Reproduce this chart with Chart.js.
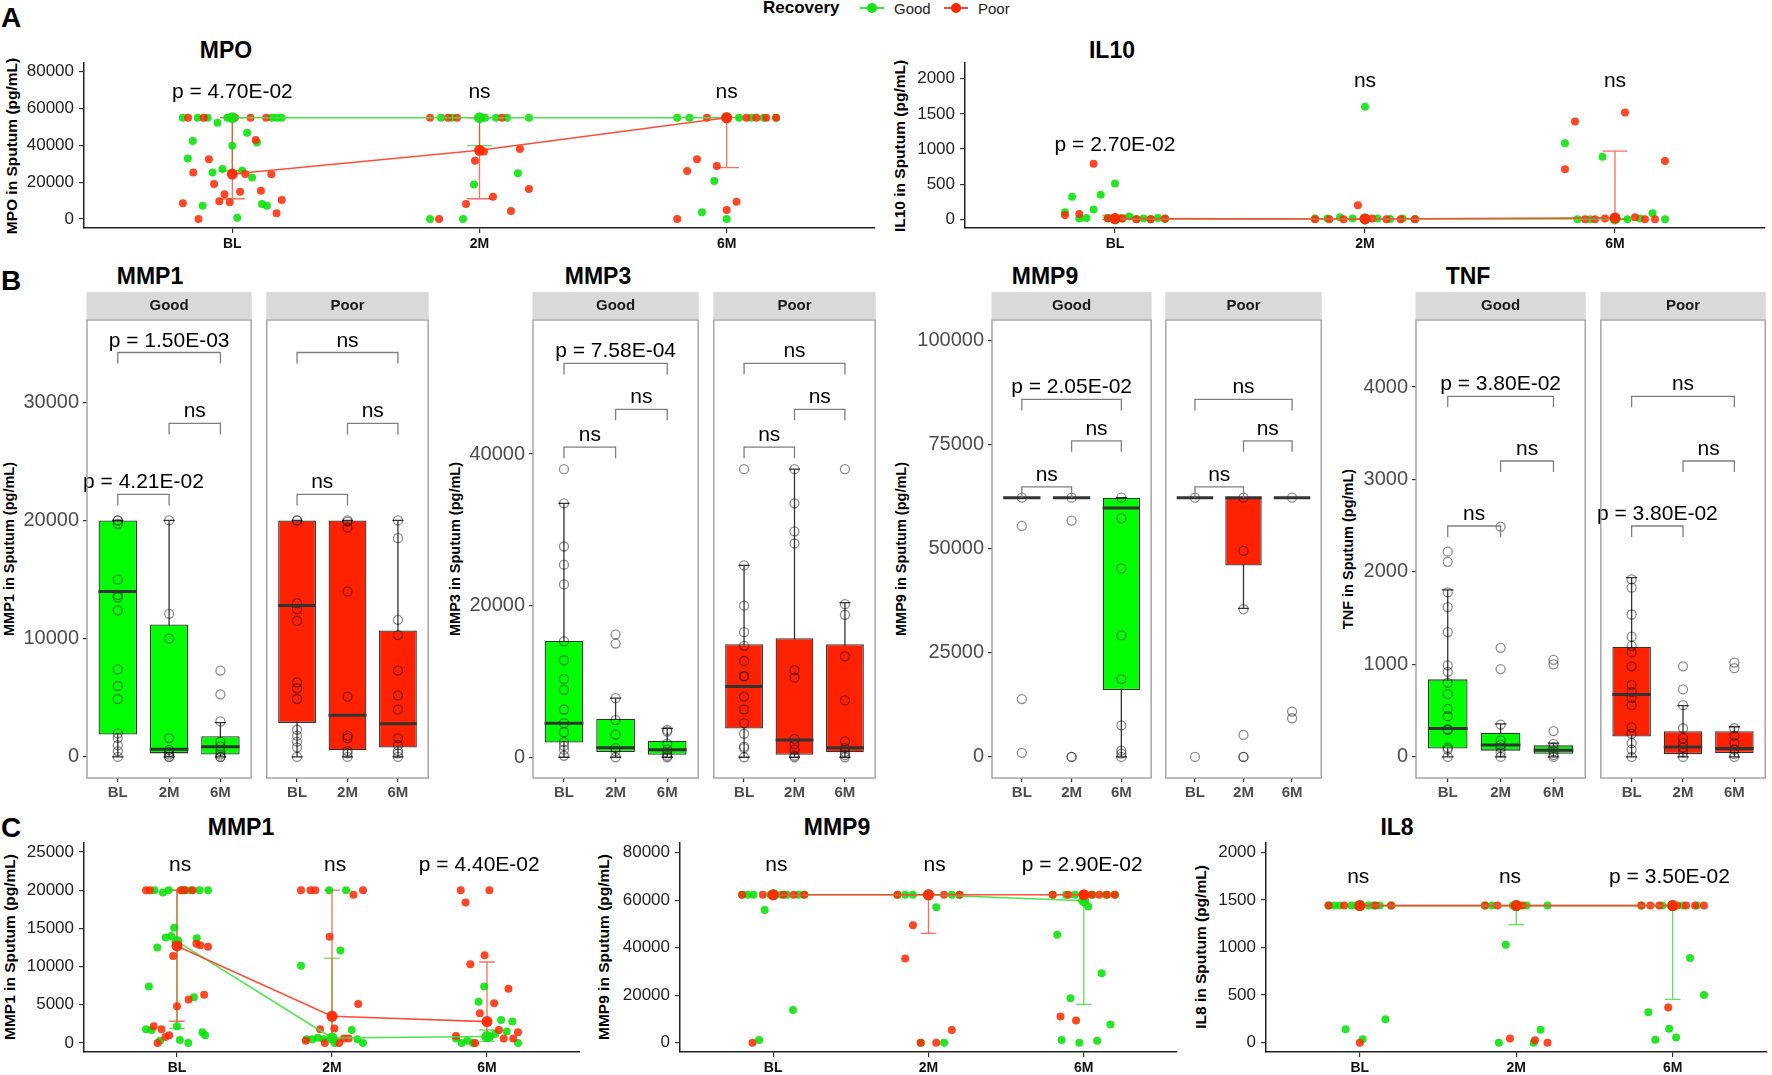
<!DOCTYPE html>
<html>
<head>
<meta charset="utf-8">
<script src="https://cdn.jsdelivr.net/npm/chart.js@4.4.1/dist/chart.umd.min.js"></script>
<style>
  body { margin: 0; width: 1772px; height: 1075px; position: relative; background: #fff; overflow: hidden;
         font-family: 'Liberation Sans', Arial, sans-serif; }
  canvas { position: absolute; }
  .t { position: absolute; transform: translate(-50%, -50%); white-space: nowrap; color: #000; }
  .yt { position: absolute; transform: translate(-50%, -50%) rotate(-90deg); white-space: nowrap; font-weight: bold; color: #000; }
</style>
</head>
<body>
<script>
const cats = ['BL', '2M', '6M'];

// ---- A: MPO / IL10 (raw points per time point, summary = [q1, median, q3]) ----
const mpoTicks = [0, 20000, 40000, 60000, 80000];
const mpoGoodPts = [
  [55000, 32900, 42400, 55000, 7200, 55000, 25200, 52300, 27200, 55000, 39800, 700, 26200, 46900, 22600, 41500, 8200, 7200, 55000, 55000, 55000],
  [0, 55000, 55000, 0, 18800, 55000, 55000, 55000, 24800, 55000],
  [55000, 55000, 3600, 20600, 0, 55000, 55000, 55000, 55000]
];
const mpoPoorPts = [
  [8500, 55000, 25200, 0, 55000, 32400, 19000, 9600, 13400, 9100, 55000, 14800, 24400, 55000, 42900, 15400, 55000, 24300, 3100, 10300],
  [55000, 0, 55000, 55000, 8200, 31700, 36700, 12100, 55000, 4300, 38000, 16300],
  [0, 26100, 32400, 55000, 28800, 4900, 9400, 55000, 55000, 55000, 55000]
];
const mpoGoodSum = [[26200, 55000, 55000], [39800, 55000, 55000], [55000, 55000, 55000]];
const mpoPoorSum = [[11000, 24400, 55000], [11000, 37300, 55000], [27900, 55000, 55000]];
const mpoSig = ['p = 4.70E-02', 'ns', 'ns'];

const il10Ticks = [0, 500, 1000, 1500, 2000];
const il10GoodPts = [
  [100, 320, 10, 20, 140, 350, 20, 510, 10, 40, 5, 10, 5, 20, 5],
  [10, 10, 30, 10, 1600, 10, 5, 10, 5],
  [1080, 0, 0, 890, 10, 0, 10, 85, 0]
];
const il10PoorPts = [
  [60, 75, 790, 10, 10, 0, 0, 10],
  [0, 0, 0, 200, 10, 0, 0, 0],
  [710, 1390, 0, 0, 10, 30, 1520, 30, 0, 0, 830]
];
const il10GoodSum = [[0, 5, 30], [0, 5, 10], [0, 5, 10]];
const il10PoorSum = [[0, 10, 60], [0, 5, 10], [0, 20, 970]];
const il10Sig = ['p = 2.70E-02', 'ns', 'ns'];

// ---- B: box stats per time point = [lower whisker, q1, median, q3, upper whisker] ----
const mmp1Ticks = [0, 10000, 20000, 30000];
const mmp1GoodBox = [[0, 1900, 14000, 20000, 20000], [0, 300, 650, 11200, 20000], [0, 200, 860, 1750, 2900]];
const mmp1GoodPts = [
  [20000, 20000, 19700, 15000, 13700, 13500, 12400, 7400, 6000, 4900, 2000, 1600, 1000, 500, 0],
  [20000, 12100, 10000, 1600, 600, 400, 200, 0, 0],
  [7300, 5300, 3000, 1300, 900, 500, 200, 0, 0]
];
const mmp1PoorBox = [[0, 2880, 12800, 20000, 20000], [0, 560, 3530, 20000, 20000], [0, 800, 2800, 10700, 20000]];
const mmp1PoorPts = [
  [20000, 20000, 13000, 12500, 11500, 6300, 5800, 4900, 2300, 1800, 1300, 800, 0],
  [20000, 19900, 19400, 14000, 5100, 1800, 1600, 500, 300, 0],
  [20000, 18500, 11600, 10300, 7300, 5200, 4000, 1600, 1000, 500, 300, 0]
];
// comparisons: BL-6M, 2M-6M, BL-2M
const mmp1GoodSig = ['p = 1.50E-03', 'ns', 'p = 4.21E-02'];
const mmp1PoorSig = ['ns', 'ns', 'ns'];

const mmp3Ticks = [0, 20000, 40000];
const mmp3GoodBox = [[0, 1940, 4490, 15370, 33500], [0, 700, 1250, 5090, 7800], [0, 320, 1000, 2180, 3800]];
const mmp3GoodPts = [
  [38000, 33500, 27800, 25400, 22800, 15300, 12800, 10300, 8900, 6300, 4500, 3300, 2000, 1500, 1000, 200],
  [16200, 15000, 7800, 4900, 3000, 1200, 800, 0],
  [3600, 3400, 1800, 1000, 500, 200, 0]
];
const mmp3PoorBox = [[0, 3800, 9350, 14900, 25300], [0, 320, 2270, 15700, 38000], [0, 650, 1250, 14900, 20400]];
const mmp3PoorPts = [
  [38000, 25300, 20000, 16500, 14700, 12700, 10700, 10700, 8000, 6300, 4500, 3100, 1400, 1200, 0],
  [38000, 33500, 29800, 28200, 11500, 10500, 2400, 1700, 1000, 200, 0],
  [38000, 20200, 18800, 13300, 7500, 2100, 1200, 700, 300, 0]
];
const mmp3GoodSig = ['p = 7.58E-04', 'ns', 'ns'];
const mmp3PoorSig = ['ns', 'ns', 'ns'];

const mmp9Ticks = [0, 25000, 50000, 75000, 100000];
const mmp9GoodBox = [[62300, 62300, 62300, 62300, 62300], [62300, 62300, 62300, 62300, 62300], [0, 16100, 59800, 62300, 62300]];
const mmp9GoodPts = [
  [62300, 55500, 13900, 1000],
  [62300, 56800, 0, 0],
  [62300, 57300, 45300, 29200, 18700, 7600, 1500, 800, 0]
];
const mmp9PoorBox = [[62300, 62300, 62300, 62300, 62300], [35700, 46000, 62300, 62300, 62300], [62300, 62300, 62300, 62300, 62300]];
const mmp9PoorPts = [
  [62300, 0],
  [62300, 49500, 35500, 5300, 0, 0],
  [62300, 10900, 9300]
];
const mmp9GoodSig = ['p = 2.05E-02', 'ns', 'ns'];
const mmp9PoorSig = ['ns', 'ns', 'ns'];

const tnfTicks = [0, 1000, 2000, 3000, 4000];
const tnfGoodBox = [[0, 91, 307, 839, 1806], [0, 68, 129, 262, 357], [0, 34, 72, 125, 150]];
const tnfGoodPts = [
  [2220, 2110, 1780, 1620, 1350, 990, 920, 800, 680, 520, 440, 300, 290, 100, 80, 0],
  [2490, 1180, 950, 350, 180, 130, 100, 50, 0],
  [1050, 1000, 280, 140, 100, 60, 20, 0]
];
const tnfPoorBox = [[0, 220, 676, 1192, 1940], [0, 30, 106, 277, 554], [0, 42, 91, 277, 326]];
const tnfPoorPts = [
  [1920, 1830, 1540, 1300, 1200, 1130, 980, 780, 700, 640, 560, 320, 250, 150, 80, 0],
  [980, 730, 560, 310, 200, 150, 100, 50, 0],
  [1020, 960, 310, 230, 150, 80, 30, 0]
];
const tnfGoodSig = ['p = 3.80E-02', 'ns', 'ns'];
const tnfPoorSig = ['ns', 'ns', 'p = 3.80E-02'];

// ---- C: MMP1 / MMP9 / IL8 ----
const cMmp1Ticks = [0, 5000, 10000, 15000, 20000, 25000];
const cMmp1GoodPts = [
  [1800, 7400, 1700, 20000, 12500, 300, 19700, 13800, 20000, 14000, 15100, 2200, 400, 20000, 20000, 0, 20000, 6000, 13700, 20000, 1400, 1000, 20000],
  [10100, 500, 500, 700, 500, 20000, 0, 12100, 20000, 1700, 500, 0],
  [600, 0, 300, 0, 5400, 7400, 800, 1200, 3000, 1500, 2800, 0]
];
const cMmp1PoorPts = [
  [20000, 20000, 2200, 0, 1800, 800, 1000, 11400, 4800, 20000, 20000, 5700, 20000, 13000, 12800, 6300, 12600],
  [20000, 300, 20000, 20000, 1800, 0, 13900, 1900, 0, 600, 600, 19400, 5100, 20000],
  [900, 20000, 18400, 10300, 0, 3900, 11500, 20000, 5200, 1700, 600, 7100, 600, 1400]
];
const cMmp1GoodSum = [[1900, 13300, 20000], [300, 650, 11100], [200, 850, 1700]];
const cMmp1PoorSum = [[2850, 12700, 20000], [560, 3500, 20000], [800, 2800, 10600]];
const cMmp1Sig = ['ns', 'ns', 'p = 4.40E-02'];

const cMmp9Ticks = [0, 20000, 40000, 60000, 80000];
const cMmp9GoodPts = [
  [62300, 62300, 62300, 1100, 55900, 62300, 62300, 62300, 62300, 13800, 62300, 62300],
  [62300, 62300, 62300, 0, 62300, 57000, 0, 62300, 62300],
  [62300, 45400, 1100, 62300, 18700, 62300, 0, 59400, 57300, 62300, 800, 29200, 62300, 7700, 62300]
];
const cMmp9PoorPts = [
  [62300, 0, 62300, 62300, 62300, 62300, 62300],
  [62300, 35500, 49400, 0, 62300, 0, 62300, 5300, 62300],
  [62300, 11000, 62300, 9300, 62300, 62300, 62300, 62300, 62300]
];
const cMmp9GoodSum = [[62300, 62300, 62300], [62300, 62300, 62300], [16100, 59800, 62300]];
const cMmp9PoorSum = [[62300, 62300, 62300], [46000, 62300, 62300], [62300, 62300, 62300]];
const cMmp9Sig = ['ns', 'ns', 'p = 2.90E-02'];

const il8Ticks = [0, 500, 1000, 1500, 2000];
const il8GoodPts = [
  [1440, 1440, 1440, 140, 1440, 1440, 35, 1440, 1440, 1440, 245, 1440],
  [1440, 1440, 0, 1030, 1440, 1440, 1440, 0, 135, 1440],
  [1440, 320, 30, 1440, 145, 55, 1440, 890, 1440, 500]
];
const il8PoorPts = [
  [1440, 1440, 0, 1440, 1440],
  [1440, 1440, 45, 1440, 25, 0],
  [1440, 1440, 1440, 370, 1440, 1440, 1440, 1440]
];
const il8GoodSum = [[1440, 1440, 1440], [1240, 1440, 1440], [455, 1440, 1440]];
const il8PoorSum = [[1440, 1440, 1440], [1440, 1440, 1440], [1440, 1440, 1440]];
const il8Sig = ['ns', 'ns', 'p = 3.50E-02'];

Chart.defaults.font.family = "'Liberation Sans', Arial, sans-serif";
const FONT = "'Liberation Sans', Arial, sans-serif";

function addCanvas(l, t, w, h) {
  const c = document.createElement('canvas');
  c.width = w; c.height = h;
  c.style.left = l + 'px'; c.style.top = t + 'px';
  c.style.width = w + 'px'; c.style.height = h + 'px';
  document.body.appendChild(c);
  return c;
}

function addText(s, x, y, css, cls) {
  const d = document.createElement('div');
  d.className = cls || 't';
  d.textContent = s;
  d.style.cssText = 'left:' + x + 'px;top:' + y + 'px;' + (css || '');
  document.body.appendChild(d);
  return d;
}

const fixTicks = vals => scale => { scale.ticks = vals.map(v => ({ value: v })); };

// spread each group's points across +-0.2 of its category, in reading order
function jittered(groups) {
  const out = [];
  groups.forEach((vals, c) => {
    const n = vals.length;
    vals.forEach((v, i) => out.push({ x: c + 1 + (n > 1 ? -0.2 + 0.4 * i / (n - 1) : 0), y: v }));
  });
  return out;
}

// error bars + p-value labels for the A / C panels
const lineExtras = {
  id: 'lineExtras',
  beforeDatasetsDraw(chart, args, o) {
    const { ctx } = chart, xs = chart.scales.x, ys = chart.scales.y;
    const cap = xs.getPixelForValue(1.05) - xs.getPixelForValue(1);
    ctx.save();
    ctx.lineWidth = 1.3;
    o.bars.forEach(b => {
      ctx.strokeStyle = b.color;
      b.sum.forEach((s, i) => {
        if (s[0] === s[2]) return;
        const x = xs.getPixelForValue(i + 1), y1 = ys.getPixelForValue(s[0]), y2 = ys.getPixelForValue(s[2]);
        ctx.beginPath();
        ctx.moveTo(x, y1); ctx.lineTo(x, y2);
        ctx.moveTo(x - cap, y1); ctx.lineTo(x + cap, y1);
        ctx.moveTo(x - cap, y2); ctx.lineTo(x + cap, y2);
        ctx.stroke();
      });
    });
    ctx.restore();
  },
  afterDatasetsDraw(chart, args, o) {
    const { ctx } = chart, xs = chart.scales.x, ys = chart.scales.y;
    ctx.save();
    ctx.font = '21px ' + FONT;
    ctx.fillStyle = '#000';
    ctx.textAlign = 'center';
    ctx.textBaseline = 'middle';
    o.notes.forEach((s, i) => ctx.fillText(s, xs.getPixelForValue(o.noteX[i]), ys.getPixelForValue(o.noteY[i])));
    ctx.restore();
  }
};

function lineChart(cv, area, yr, ticks, good, poor, sig, noteX, noteY) {
  const c = addCanvas(cv[0], cv[1], cv[2], cv[3]);
  const yw = area[0] - cv[0], padTop = area[1] - cv[1];
  const padRight = cv[0] + cv[2] - area[2], xh = cv[1] + cv[3] - area[3];
  const med = sum => sum.map((s, i) => ({ x: i + 1, y: s[1] }));
  new Chart(c, {
    type: 'line',
    data: {
      datasets: [
        { data: med(poor.sum), borderColor: 'rgba(255,70,50,0.95)', borderWidth: 1.6, pointRadius: 5.5,
          pointBackgroundColor: 'rgba(255,40,0,0.95)', pointBorderColor: 'rgba(0,0,0,0)', pointBorderWidth: 0, order: 1 },
        { data: med(good.sum), borderColor: 'rgba(70,225,70,0.95)', borderWidth: 1.6, pointRadius: 5.5,
          pointBackgroundColor: 'rgba(20,225,20,0.95)', pointBorderColor: 'rgba(0,0,0,0)', pointBorderWidth: 0, order: 2 },
        { data: jittered(poor.pts), showLine: false, pointRadius: 4, pointBackgroundColor: 'rgba(255,40,0,0.85)',
          pointBorderColor: 'rgba(0,0,0,0)', pointBorderWidth: 0, order: 3 },
        { data: jittered(good.pts), showLine: false, pointRadius: 4, pointBackgroundColor: 'rgba(0,225,0,0.85)',
          pointBorderColor: 'rgba(0,0,0,0)', pointBorderWidth: 0, order: 4 }
      ]
    },
    plugins: [lineExtras],
    options: {
      responsive: false, animation: false, events: [],
      layout: { padding: { top: padTop, right: padRight, left: 0, bottom: 0 } },
      plugins: {
        legend: { display: false }, tooltip: { enabled: false },
        lineExtras: {
          bars: [{ sum: good.sum, color: 'rgba(40,215,40,0.75)' }, { sum: poor.sum, color: 'rgba(255,60,40,0.75)' }],
          notes: sig, noteX, noteY
        }
      },
      scales: {
        x: {
          type: 'linear', min: 0.4, max: 3.6, offset: false,
          afterBuildTicks: fixTicks([1, 2, 3]),
          afterFit: s => { s.height = xh; },
          ticks: { callback: v => cats[v - 1], color: '#111', font: { size: 14, weight: 'bold' }, padding: 3, maxRotation: 0, autoSkip: false },
          grid: { drawOnChartArea: false, tickLength: 5, color: '#333', lineWidth: 1.2 },
          border: { color: '#222', width: 1.5 }
        },
        y: {
          min: yr[0], max: yr[1],
          afterBuildTicks: fixTicks(ticks),
          afterFit: s => { s.width = yw; },
          ticks: { callback: v => String(v), color: '#222', font: { size: 17 }, padding: 5, autoSkip: false },
          grid: { drawOnChartArea: false, tickLength: 5, color: '#333', lineWidth: 1.2 },
          border: { color: '#222', width: 1.5 }
        }
      }
    }
  });
}

// whiskers, medians, significance brackets, strip and panel border for the B facets
const boxExtras = {
  id: 'boxExtras',
  beforeDatasetsDraw(chart, args, o) {
    const { ctx } = chart, xs = chart.scales.x, ys = chart.scales.y;
    const cap = xs.getPixelForValue(1.11) - xs.getPixelForValue(1);
    ctx.save();
    ctx.strokeStyle = '#333';
    ctx.lineWidth = 1.3;
    o.box.forEach((b, i) => {
      const x = xs.getPixelForValue(i + 1), yl = ys.getPixelForValue(b[0]), yh = ys.getPixelForValue(b[4]);
      ctx.beginPath();
      ctx.moveTo(x, yl); ctx.lineTo(x, yh);
      ctx.moveTo(x - cap, yl); ctx.lineTo(x + cap, yl);
      ctx.moveTo(x - cap, yh); ctx.lineTo(x + cap, yh);
      ctx.stroke();
    });
    ctx.restore();
  },
  afterDatasetsDraw(chart, args, o) {
    const { ctx, chartArea: a } = chart, xs = chart.scales.x, ys = chart.scales.y;
    const half = xs.getPixelForValue(1.375) - xs.getPixelForValue(1);
    ctx.save();
    ctx.strokeStyle = '#333';
    ctx.lineWidth = 3;
    o.box.forEach((b, i) => {
      const x = xs.getPixelForValue(i + 1), y = ys.getPixelForValue(b[2]);
      ctx.beginPath(); ctx.moveTo(x - half, y); ctx.lineTo(x + half, y); ctx.stroke();
    });
    const pairs = [[1, 3], [2, 3], [1, 2]];
    ctx.strokeStyle = '#7f7f7f';
    ctx.lineWidth = 1.3;
    ctx.fillStyle = '#000';
    ctx.font = '21px ' + FONT;
    ctx.textAlign = 'center';
    ctx.textBaseline = 'alphabetic';
    o.sig.forEach((s, k) => {
      const x1 = xs.getPixelForValue(pairs[k][0]), x2 = xs.getPixelForValue(pairs[k][1]);
      const y = ys.getPixelForValue(o.levels[k]);
      ctx.beginPath();
      ctx.moveTo(x1, y + 11); ctx.lineTo(x1, y); ctx.lineTo(x2, y); ctx.lineTo(x2, y + 11);
      ctx.stroke();
      ctx.fillText(s, (x1 + x2) / 2, y - 6);
    });
    ctx.fillStyle = '#d9d9d9';
    ctx.fillRect(a.left - 0.5, a.top - 28, a.right - a.left + 1, 27);
    ctx.fillStyle = '#1a1a1a';
    ctx.font = 'bold 15px ' + FONT;
    ctx.textBaseline = 'middle';
    ctx.fillText(o.label, (a.left + a.right) / 2, a.top - 14);
    ctx.strokeStyle = '#9a9a9a';
    ctx.lineWidth = 1.3;
    ctx.strokeRect(a.left, a.top, a.right - a.left, a.bottom - a.top);
    ctx.restore();
  }
};

const B_TOP = 283, B_H = 523;   // canvas box; plot area runs 320..778
function facet(box, pts, sig, levels, x0, x1, yr, ticks, fill, label, showY) {
  const yw = showY ? 85 : 3;
  const c = addCanvas(x0 - yw, B_TOP, x1 - x0 + yw + 3, B_H);
  new Chart(c, {
    type: 'bar',
    data: {
      datasets: [
        { type: 'bar', data: box.map((b, i) => ({ x: i + 1, y: [b[1], b[3]] })), backgroundColor: fill,
          borderColor: '#333', borderWidth: 1.3, borderSkipped: false, barPercentage: 0.75, categoryPercentage: 1, order: 2 },
        { type: 'line', data: pts.flatMap((vals, i) => vals.map(v => ({ x: i + 1, y: v }))), showLine: false,
          pointRadius: 4.5, pointBackgroundColor: 'rgba(0,0,0,0)', pointBorderColor: 'rgba(0,0,0,0.45)',
          pointBorderWidth: 1.3, order: 1 }
      ]
    },
    plugins: [boxExtras],
    options: {
      responsive: false, animation: false, events: [],
      layout: { padding: { top: 37, right: 3, left: showY ? 0 : 3, bottom: 0 } },
      plugins: { legend: { display: false }, tooltip: { enabled: false }, boxExtras: { box, sig, levels, label } },
      scales: {
        x: {
          type: 'linear', min: 0.4, max: 3.6, offset: false,
          afterBuildTicks: fixTicks([1, 2, 3]),
          afterFit: s => { s.height = 28; },
          ticks: { callback: v => cats[v - 1], color: '#4d4d4d', font: { size: 15, weight: 'bold' }, padding: 2, maxRotation: 0, autoSkip: false },
          grid: { offset: false, drawOnChartArea: false, tickLength: 4, color: '#333', lineWidth: 1.2 },
          border: { display: false }
        },
        y: Object.assign({
          display: showY, min: yr[0], max: yr[1],
          afterBuildTicks: fixTicks(ticks),
          ticks: { callback: v => String(v), color: '#4d4d4d', font: { size: 20 }, padding: 4, autoSkip: false },
          grid: { drawOnChartArea: false, tickLength: 4, color: '#333', lineWidth: 1.2 },
          border: { display: false }
        }, showY ? { afterFit: s => { s.width = yw; } } : {})
      }
    }
  });
}

// ---------------- text ----------------
const letterCss = 'font-weight:bold;font-size:28px;';
addText('A', 11, 18, letterCss);
addText('B', 11, 281, letterCss);
addText('C', 11, 828, letterCss);

const titleCss = 'font-weight:bold;font-size:23px;';
[['MPO', 226, 50], ['IL10', 1112, 50],
 ['MMP1', 150, 276], ['MMP3', 598, 276], ['MMP9', 1045, 276], ['TNF', 1468, 276],
 ['MMP1', 241, 827], ['MMP9', 837, 827], ['IL8', 1397, 827]].forEach(t => addText(t[0], t[1], t[2], titleCss));

[['MPO in Sputum (pg/mL)', 12, 146, 15.5], ['IL10 in Sputum (pg/mL)', 900, 146, 15.5],
 ['MMP1 in Sputum (pg/mL)', 9, 549, 14.5], ['MMP3 in Sputum (pg/mL)', 455, 549, 14.5],
 ['MMP9 in Sputum (pg/mL)', 901, 549, 14.5], ['TNF in Sputum (pg/mL)', 1348, 549, 14.5],
 ['MMP1 in Sputum (pg/mL)', 10, 947, 15.5], ['MMP9 in Sputum (pg/mL)', 604, 947, 15.5],
 ['IL8 in Sputum (pg/mL)', 1201, 947, 15.5]].forEach(t => addText(t[0], t[1], t[2], 'font-size:' + t[3] + 'px;', 'yt'));

// legend
addText('Recovery', 763, 8, 'font-weight:bold;font-size:17px;transform:translate(0,-50%);');
function legendKey(x, line, dot, label) {
  const l = document.createElement('div');
  l.style.cssText = 'position:absolute;left:' + x + 'px;top:7px;width:24px;height:2px;background:' + line + ';';
  document.body.appendChild(l);
  const d = document.createElement('div');
  d.style.cssText = 'position:absolute;left:' + (x + 7) + 'px;top:3px;width:10px;height:10px;border-radius:50%;background:' + dot + ';';
  document.body.appendChild(d);
  addText(label, x + 34, 8, 'font-size:15px;color:#222;transform:translate(0,-50%);');
}
legendKey(860, 'rgb(70,225,70)', 'rgb(20,225,20)', 'Good');
legendKey(944, 'rgb(255,70,50)', 'rgb(255,40,0)', 'Poor');

// ---------------- panel A ----------------
lineChart([14, 38, 870, 215], [84, 63, 875, 228], [-4890, 84720], mpoTicks,
  { pts: mpoGoodPts, sum: mpoGoodSum }, { pts: mpoPoorPts, sum: mpoPoorSum },
  mpoSig, [1, 2, 3], [69000, 69000, 69000]);
lineChart([905, 38, 867, 215], [965, 63, 1765, 228], [-124, 2223], il10Ticks,
  { pts: il10GoodPts, sum: il10GoodSum }, { pts: il10PoorPts, sum: il10PoorSum },
  il10Sig, [1, 2, 3], [1057, 1957, 1957]);

// ---------------- panel B ----------------
const GREEN = '#00ff00', RED = '#ff2200';
const bPanels = [
  { gb: mmp1GoodBox, gp: mmp1GoodPts, pb: mmp1PoorBox, pp: mmp1PoorPts, gs: mmp1GoodSig, ps: mmp1PoorSig,
    ticks: mmp1Ticks, y: [-1780, 36950], levels: [34200, 28200, 22200], gx: [87, 254], px: [264, 431] },
  { gb: mmp3GoodBox, gp: mmp3GoodPts, pb: mmp3PoorBox, pp: mmp3PoorPts, gs: mmp3GoodSig, ps: mmp3PoorSig,
    ticks: mmp3Ticks, y: [-2736, 57680], levels: [51950, 45900, 40900], gx: [533, 701], px: [711, 878] },
  { gb: mmp9GoodBox, gp: mmp9GoodPts, pb: mmp9PoorBox, pp: mmp9PoorPts, gs: mmp9GoodSig, ps: mmp9PoorSig,
    ticks: mmp9Ticks, y: [-5059, 104980], levels: [85900, 75950, 64900], gx: [992, 1154], px: [1163, 1324] },
  { gb: tnfGoodBox, gp: tnfGoodPts, pb: tnfPoorBox, pp: tnfPoorPts, gs: tnfGoodSig, ps: tnfPoorSig,
    ticks: tnfTicks, y: [-228, 4725], levels: [3900, 3200, 2497], gx: [1416, 1588], px: [1598, 1768] }
];
bPanels.forEach(p => {
  facet(p.gb, p.gp, p.gs, p.levels, p.gx[0], p.gx[1], p.y, p.ticks, GREEN, 'Good', true);
  facet(p.pb, p.pp, p.ps, p.levels, p.px[0], p.px[1], p.y, p.ticks, RED, 'Poor', false);
});

// ---------------- panel C ----------------
lineChart([14, 818, 575, 257], [84, 843, 580, 1052], [-1178, 26178], cMmp1Ticks,
  { pts: cMmp1GoodPts, sum: cMmp1GoodSum }, { pts: cMmp1PoorPts, sum: cMmp1PoorSum },
  cMmp1Sig, [1.02, 2.02, 2.95], [23300, 23300, 23300]);
lineChart([610, 818, 575, 257], [680, 843, 1177, 1052], [-3916, 84084], cMmp9Ticks,
  { pts: cMmp9GoodPts, sum: cMmp9GoodSum }, { pts: cMmp9PoorPts, sum: cMmp9PoorSum },
  cMmp9Sig, [1.02, 2.04, 2.99], [74800, 74800, 74800]);
lineChart([1196, 818, 576, 257], [1266, 843, 1769, 1052], [-98, 2098], il8Ticks,
  { pts: il8GoodPts, sum: il8GoodSum }, { pts: il8PoorPts, sum: il8PoorSum },
  il8Sig, [0.99, 1.96, 2.98], [1737, 1737, 1737]);
</script>
</body>
</html>
